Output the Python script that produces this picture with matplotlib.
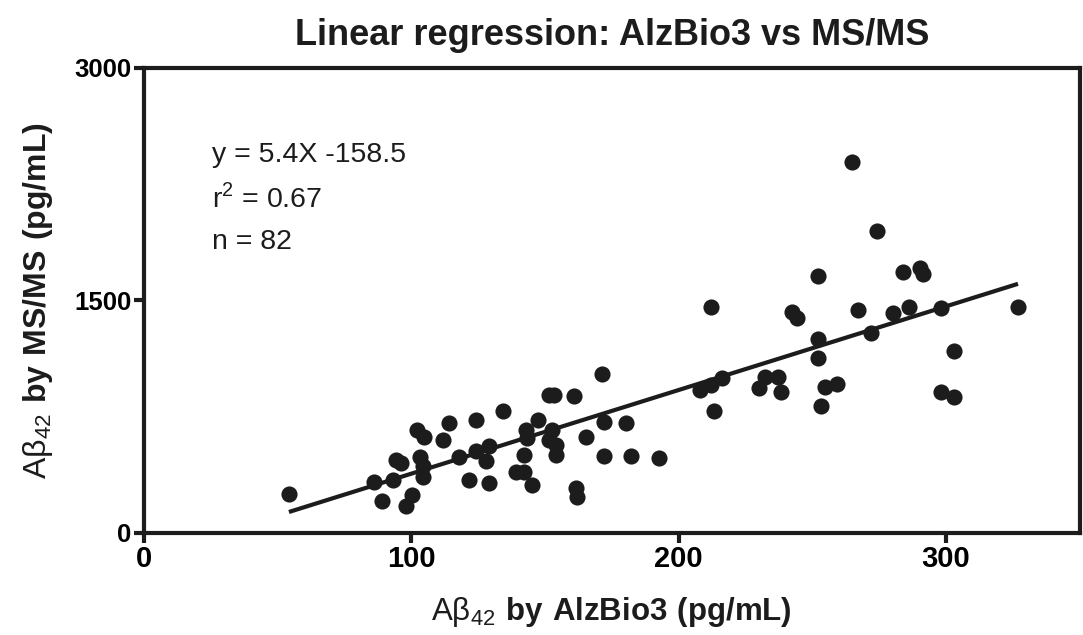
#!/usr/bin/env python3
# -*- coding: utf-8 -*-
"""
Linear regression of Abeta42 measured by AlzBio3 against MS/MS
"""

import matplotlib
matplotlib.use('Agg')
import matplotlib.pyplot as plt
from matplotlib import font_manager

# Data (pg/mL)

ALZBIO3 = [54.2, 86.2, 88.9, 93.0, 94.3, 96.2, 100.3, 97.8, 102.0, 104.9,
           103.2, 104.2, 104.2, 111.7, 114.2, 117.9, 121.6, 124.1, 124.1, 129.1,
           127.9, 129.1, 134.1, 139.1, 142.2, 142.2, 142.8, 143.4, 145.3, 147.5,
           151.5, 153.4, 152.7, 151.5, 154.0, 154.0, 160.8, 165.2, 171.2, 172.0,
           172.0, 161.5, 162.1, 180.1, 182.0, 192.5, 208.1, 211.9, 216.0, 213.1,
           212.2, 232.3, 237.3, 229.9, 238.3, 242.3, 244.1, 252.2, 252.2, 252.2,
           253.2, 254.7, 259.1, 264.7, 266.9, 271.9, 274.0, 280.2, 284.0, 286.1,
           290.2, 291.4, 298.0, 298.2, 303.0, 303.0, 326.9]
MSMS = [252, 325, 208, 342, 471, 452, 245, 170, 665, 621,
        492, 428, 363, 600, 708, 492, 342, 729, 525, 557,
        460, 321, 783, 395, 395, 503, 665, 611, 310, 729,
        890, 890, 665, 600, 568, 503, 884, 615, 1026, 718,
        497, 288, 234, 708, 497, 482, 923, 955, 1000, 783,
        1460, 1008, 1008, 934, 908, 1428, 1385, 1654, 1250, 1131,
        815, 944, 961, 2395, 1439, 1288, 1948, 1417, 1686, 1456,
        1708, 1671, 1450, 908, 1170, 879, 1460]

SLOPE = 5.4
INTERCEPT = -158.5
X_TICKS = [0, 100, 200, 300]
Y_TICKS = [0, 1500, 3000]
STATS_TEXT = ['y = 5.4X -158.5', 'r$^2$ = 0.67', 'n = 82']

INK = '#1c1c1c'


def pick_font(names):
    # first installed family from the list
    for name in names:
        try:
            font_manager.findfont(name, fallback_to_default=False)
            return name
        except ValueError:
            continue
    return 'DejaVu Sans'


def main():
    base = pick_font(['Liberation Sans', 'Arial'])

    plt.rcParams['font.family'] = [base, 'DejaVu Sans']
    plt.rcParams['mathtext.fontset'] = 'custom'
    plt.rcParams['mathtext.rm'] = base
    plt.rcParams['mathtext.bf'] = base + ':bold'

    fig = plt.figure(figsize=(10.83, 6.35), dpi=100)
    ax = fig.add_axes([0.133, 0.161, 0.864, 0.732])

    ax.scatter(ALZBIO3, MSMS, s=135, color=INK, linewidths=0, zorder=3)

    # regression line over the range of the data
    x_line = [min(ALZBIO3), max(ALZBIO3)]
    y_line = [SLOPE * x + INTERCEPT for x in x_line]
    ax.plot(x_line, y_line, color=INK, linewidth=3, solid_capstyle='butt', zorder=2)

    ax.set_xlim(0, 350)
    ax.set_ylim(0, 3000)
    ax.set_xticks(X_TICKS)
    ax.set_yticks(Y_TICKS)
    ax.set_xticklabels([str(t) for t in X_TICKS], weight='bold', fontsize=21)
    ax.set_yticklabels([str(t) for t in Y_TICKS], weight='bold', fontsize=18.5)
    ax.tick_params(direction='out', length=7, width=3, color=INK, pad=2)

    for spine in ax.spines.values():
        spine.set_linewidth(3)
        spine.set_color(INK)

    ax.set_xlabel(r'$\mathrm{Aβ_{42}}\ \mathbf{by\ AlzBio3\ (pg/mL)}$', fontsize=22.5,
                  color=INK, labelpad=16)
    ax.set_ylabel(r'$\mathrm{Aβ_{42}}\ \mathbf{by\ MS/MS\ (pg/mL)}$', fontsize=23,
                  color=INK, labelpad=14)

    fig.text(0.565, 0.944, 'Linear regression: AlzBio3 vs MS/MS',
             weight='bold', fontsize=26, ha='center', va='center', color=INK)

    y_positions = [2439, 2161, 1877]
    for line, y in zip(STATS_TEXT, y_positions):
        ax.text(25.4, y, line, fontsize=20.5, ha='left', va='center', color=INK)

    fig.savefig('out.png', dpi=100)


if __name__ == "__main__":
    main()
